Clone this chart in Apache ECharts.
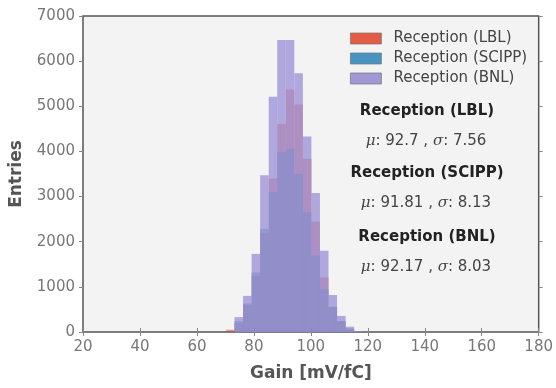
<!DOCTYPE html>
<html>
<head>
<meta charset="utf-8">
<title>Gain</title>
<script src="https://cdn.jsdelivr.net/npm/echarts@6/dist/echarts.min.js"></script>
<style>
    html, body {margin: 0; padding: 0; background: #fff;}
    #char1 {width: 556px; height: 388px;}
</style>
</head>
<body>
<div id="char1"></div>
<script>
// bin edges (mV/fC), 16 bins
var binEdges = [70.2, 73.2, 76.2, 79.2, 82.2, 85.2, 88.2, 91.2, 94.2, 97.2, 100.2, 103.2, 106.2, 109.2, 112.2, 115.2, 118.2];
var countsLBL = [50, 200, 600, 1250, 2200, 3400, 4610, 5370, 5040, 3840, 2450, 1210, 560, 240, 74, 15];
var countsSCIPP = [5, 240, 630, 1320, 2280, 3100, 3990, 4060, 3500, 2650, 1700, 950, 556, 244, 74, 15];
var countsBNL = [0, 330, 800, 1730, 3470, 5210, 6470, 6470, 5730, 4330, 3080, 1800, 820, 356, 118, 20];
var seriesNames = ['Reception (LBL)', 'Reception (SCIPP)', 'Reception (BNL)'];
var stats = [['92.7', '7.56'], ['91.81', '8.13'], ['92.17', '8.03']];
var xTicks = [20, 180, 20];   // min, max, interval
var yTicks = [0, 7000, 1000];

(function (window, echarts) {
    var colors = ['#e24a33', '#348abd', '#988ed5'];
    var font = 'DejaVu Sans';

    // [x0, x1, count] per bin
    function toBins(counts) {
        var out = [];
        for (var i = 0; i < counts.length; i++) {
            out.push([binEdges[i], binEdges[i + 1], counts[i]]);
        }
        return out;
    }

    function renderBin(params, api) {
        var p0 = api.coord([api.value(0), api.value(2)]);
        var p1 = api.coord([api.value(1), 0]);
        return {
            type: 'rect',
            shape: {x: p0[0], y: p0[1], width: p1[0] - p0[0], height: p1[1] - p0[1]},
            style: api.style()
        };
    }

    function hist(name, counts, color, opacity) {
        return {
            name: name,
            type: 'custom',
            renderItem: renderBin,
            encode: {x: [0, 1], y: 2},
            itemStyle: {color: color, opacity: opacity},
            data: toBins(counts),
            silent: true
        };
    }

    function valueAxis(pos, lim, showLabel) {
        return {
            type: 'value',
            position: pos,
            min: lim[0],
            max: lim[1],
            interval: lim[2],
            splitLine: {show: false},
            axisLine: {show: false},
            axisTick: {show: true, inside: false, length: 4, lineStyle: {color: '#888', width: 1}},
            axisLabel: {
                show: showLabel, color: '#777', fontSize: 15, fontFamily: font, margin: 8,
                formatter: function (v) { return String(v); }
            }
        };
    }

    var xBottom = valueAxis('bottom', xTicks, true);
    xBottom.name = 'Gain [mV/fC]';
    xBottom.nameLocation = 'middle';
    xBottom.nameGap = 33;
    xBottom.nameTextStyle = {color: '#555', fontSize: 17, fontWeight: 'bold', fontFamily: font};

    var yLeft = valueAxis('left', yTicks, true);
    yLeft.name = 'Entries';
    yLeft.nameLocation = 'middle';
    yLeft.nameGap = 58;
    yLeft.nameTextStyle = {color: '#555', fontSize: 17, fontWeight: 'bold', fontFamily: font};

    // 右侧统计文字
    var texts = [];
    var rowY = [111, 141, 173, 203, 237, 267];
    for (var i = 0; i < 3; i++) {
        texts.push({
            type: 'text', x: 427, y: rowY[i * 2], z: 100,
            style: {
                text: seriesNames[i],
                align: 'center', verticalAlign: 'middle',
                font: 'bold 15px "' + font + '"', fill: '#222'
            }
        });
        texts.push({
            type: 'text', x: 426, y: rowY[i * 2 + 1], z: 100,
            style: {
                text: '{m|\u03bc}: ' + stats[i][0] + ' , {m|\u03c3}: ' + stats[i][1],
                align: 'center', verticalAlign: 'middle',
                font: '15px "' + font + '"', fill: '#444',
                rich: {m: {fontFamily: 'DejaVu Serif', fontStyle: 'italic', fontSize: 15, fill: '#444'}}
            }
        });
    }

    var char1 = echarts.init(document.getElementById('char1'), null, {renderer: 'canvas'});
    var option = {
        animation: false,
        backgroundColor: '#fff',
        grid: {
            left: 83, right: 15, top: 16, bottom: 56,
            show: true, backgroundColor: '#f3f3f3', borderColor: '#555', borderWidth: 1.5
        },
        legend: {
            orient: 'vertical',
            left: 345, top: 26,
            itemWidth: 31, itemHeight: 11, itemGap: 5,
            icon: 'rect',
            textStyle: {color: '#444', fontSize: 15, fontFamily: font, padding: [0, 0, 0, 7]},
            data: seriesNames.map(function (n, k) {
                return {name: n, itemStyle: {color: colors[k], opacity: 0.9, borderColor: '#777', borderWidth: 0.8}};
            })
        },
        xAxis: [xBottom, valueAxis('top', xTicks, false)],
        yAxis: [yLeft, valueAxis('right', yTicks, false)],
        series: [
            hist(seriesNames[0], countsLBL, colors[0], 0.55),
            hist(seriesNames[1], countsSCIPP, colors[1], 0.6),
            hist(seriesNames[2], countsBNL, colors[2], 0.75)
        ],
        graphic: texts
    };
    char1.setOption(option);
})(window, echarts);
</script>
</body>
</html>
